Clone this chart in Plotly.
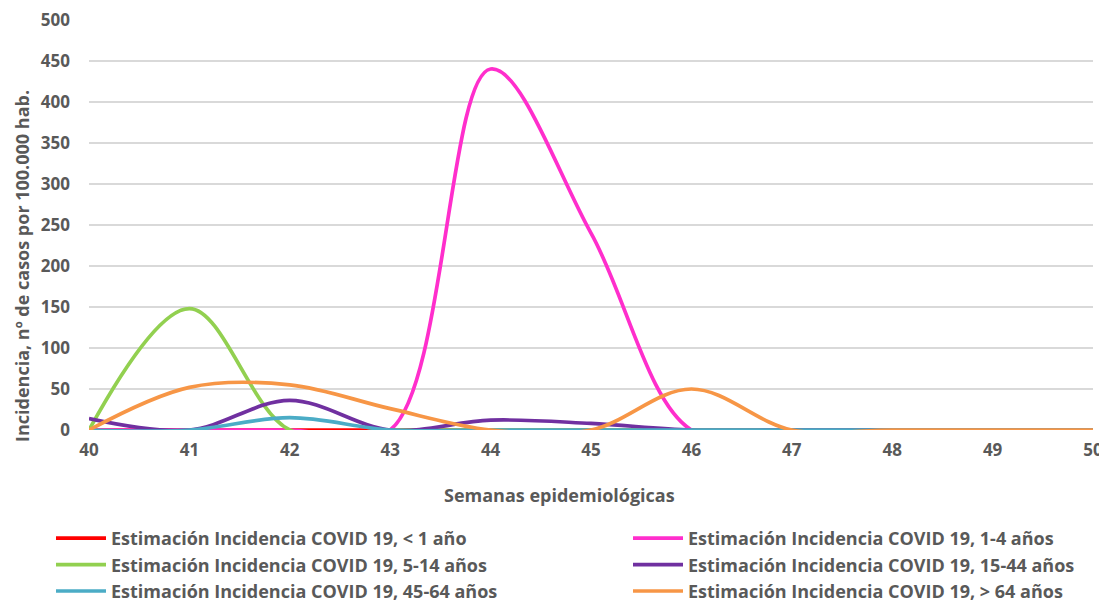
import plotly.graph_objects as go

weeks = [40, 41, 42, 43, 44, 45, 46, 47, 48, 49, 50]
menor_1 = [0, 0, 0, 0, 0, 0, 0, 0, 0, 0, 0]
de_1_4 = [0, 0, 0, 0, 440, 240, 0, 0, 0, 0, 0]
de_5_14 = [0, 148, 0, 0, 0, 0, 0, 0, 0, 0, 0]
de_15_44 = [14, 0, 36, 0, 12, 8, 0, 0, 0, 0, 0]
de_45_64 = [0, 0, 15, 0, 0, 0, 0, 0, 0, 0, 0]
mayor_64 = [0, 52, 55, 26, 0, 0, 50, 0, 0, 0, 0]
y_ticks = [0, 50, 100, 150, 200, 250, 300, 350, 400, 450, 500]

names = [
    "Estimación Incidencia COVID 19, < 1 año",
    "Estimación Incidencia COVID 19, 1-4 años",
    "Estimación Incidencia COVID 19, 5-14 años",
    "Estimación Incidencia COVID 19, 15-44 años",
    "Estimación Incidencia COVID 19, 45-64 años",
    "Estimación Incidencia COVID 19, > 64 años",
]
series = [menor_1, de_1_4, de_5_14, de_15_44, de_45_64, mayor_64]
colors = ["#FF0000", "#FF2ECC", "#92D050", "#7030A0", "#4BACC6", "#F79646"]
legend_ids = ["legend", "legend2", "legend", "legend2", "legend", "legend2"]

FONT = "Open Sans"
GREY = "#595959"

# page is offset by the default 8px body margin
W, H = 1099, 595
L, T, R, B = 81, 11, 14, 173
PW, PH = W - L - R, H - T - B

fig = go.Figure()
for n, s, c, lg in zip(names, series, colors, legend_ids):
    fig.add_trace(go.Scatter(
        x=weeks, y=s, name=n, mode="lines", legend=lg,
        line=dict(color=c, width=3.7, shape="spline", smoothing=1.0),
        cliponaxis=False,
    ))

legend_common = dict(
    orientation="v", yanchor="top", xanchor="left",
    font=dict(family=FONT, size=18, color=GREY, weight="bold"),
    itemwidth=50, tracegroupgap=0, bgcolor="rgba(0,0,0,0)",
)

fig.update_layout(
    width=W, height=H,
    margin=dict(l=L, r=R, t=T, b=B, autoexpand=False),
    plot_bgcolor="white", paper_bgcolor="white",
    font=dict(family=FONT, color=GREY, size=13),
    showlegend=True,
    legend=dict(x=(43 - L) / PW, y=-90 / PH, **legend_common),
    legend2=dict(x=(620 - L) / PW, y=-90 / PH, **legend_common),
    xaxis=dict(
        range=[40, 50], tickmode="array", tickvals=weeks,
        showgrid=False, zeroline=False, showline=False, ticks="",
        ticklabelstandoff=8, ticklabeloverflow="allow",
        tickfont=dict(family=FONT, size=17, color=GREY, weight="bold"),
    ),
    yaxis=dict(
        range=[0, 501], tickmode="array", tickvals=y_ticks,
        showgrid=True, gridcolor="#D9D9D9", gridwidth=1.5,
        zeroline=False, showline=False, ticks="",
        ticklabelstandoff=18, ticklabeloverflow="allow",
        tickfont=dict(family=FONT, size=17, color=GREY, weight="bold"),
    ),
    annotations=[
        dict(text="Semanas epidemiológicas", xref="paper", yref="paper",
             x=(551 - L) / PW, y=-65 / PH, showarrow=False,
             xanchor="center", yanchor="middle",
             font=dict(family=FONT, size=18, color=GREY, weight="bold")),
        dict(text="Incidencia, nº de casos por 100.000 hab.", xref="paper", yref="paper",
             x=(14 - L) / PW, y=(422 - 258) / PH, showarrow=False, textangle=-90,
             xanchor="center", yanchor="middle",
             font=dict(family=FONT, size=18, color=GREY, weight="bold")),
    ],
)

fig.write_html("out.html")
